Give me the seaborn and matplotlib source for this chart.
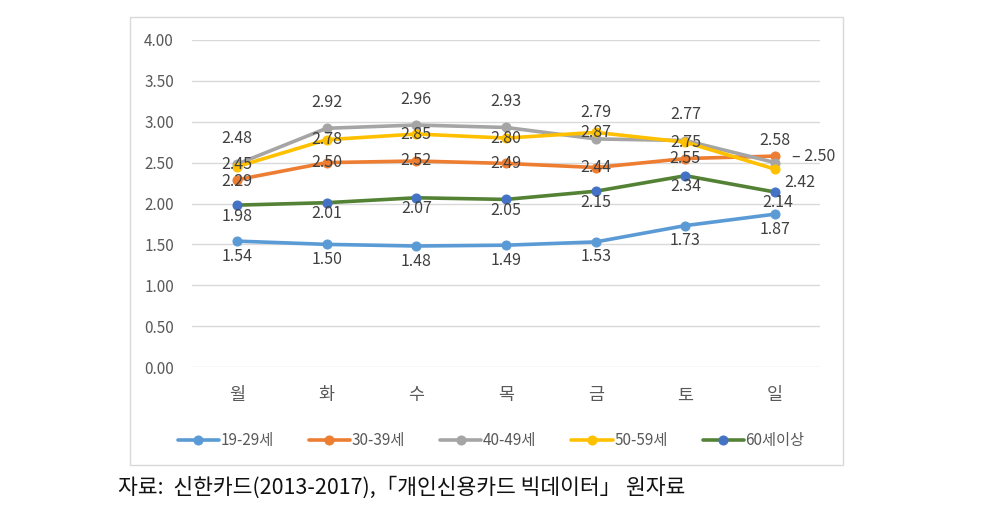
import matplotlib
matplotlib.use("Agg")
import matplotlib.pyplot as plt
import seaborn as sns
import pandas as pd
from matplotlib.patches import Rectangle

days = ["월", "화", "수", "목", "금", "토", "일"]
groups = ["19-29세", "30-39세", "40-49세", "50-59세", "60세이상"]
v_19_29 = [1.54, 1.50, 1.48, 1.49, 1.53, 1.73, 1.87]
v_30_39 = [2.29, 2.50, 2.52, 2.49, 2.44, 2.55, 2.58]
v_40_49 = [2.48, 2.92, 2.96, 2.93, 2.79, 2.77, 2.50]
v_50_59 = [2.45, 2.78, 2.85, 2.80, 2.87, 2.75, 2.42]
v_60 = [1.98, 2.01, 2.07, 2.05, 2.15, 2.34, 2.14]
y_ticks = [0.0, 0.5, 1.0, 1.5, 2.0, 2.5, 3.0, 3.5, 4.0]
source = "자료:  신한카드(2013-2017),「개인신용카드 빅데이터」 원자료"

series = [v_19_29, v_30_39, v_40_49, v_50_59, v_60]
line_colors = ["#5B9BD5", "#ED7D31", "#A5A5A5", "#FFC000", "#548235"]
marker_colors = ["#5B9BD5", "#ED7D31", "#A5A5A5", "#FFC000", "#4472C4"]

sns.set_theme(style="white")
plt.rcParams["font.family"] = ["Noto Sans CJK KR", "DejaVu Sans"]

fig = plt.figure(figsize=(9.86, 5.12), dpi=100)
ax = fig.add_axes([192 / 986, 1 - 367 / 512, 628 / 986, 327 / 512])

df = pd.DataFrame({
    "day": days * len(groups),
    "value": sum(series, []),
    "group": sum([[g] * len(days) for g in groups], []),
})

for i in range(len(groups)):
    sub = df[df["group"] == groups[i]]
    sns.lineplot(data=sub, x="day", y="value", ax=ax, color=line_colors[i],
                 lw=2.6, marker="o", markersize=6.5,
                 markerfacecolor=marker_colors[i], markeredgecolor=marker_colors[i],
                 label=groups[i], sort=False)

ax.set_xlim(-0.5, len(days) - 0.5)
ax.set_ylim(0, 4.0)
ax.set_yticks(y_ticks)
ax.set_yticklabels([f"{t:.2f}" for t in y_ticks], color="#595959", fontsize=11)
ax.set_xticks(range(len(days)))
ax.set_xticklabels(days, color="#595959", fontsize=12.5)
ax.tick_params(axis="y", length=0, pad=13)
ax.tick_params(axis="x", length=0, pad=14)
ax.set_xlabel("")
ax.set_ylabel("")
ax.grid(axis="y", color="#D9D9D9", lw=1)
ax.grid(axis="x", visible=False)
for s in ax.spines.values():
    s.set_visible(False)
ax.get_legend().remove()

lab_color = "#404040"
fs = 11.5

def put(x, y, dy, txt, dx=0, ha="center"):
    ax.annotate(txt, (x, y), xytext=(dx, dy), textcoords="offset pixels",
                ha=ha, va="center", fontsize=fs, color=lab_color)

n = len(days)
for j in range(n):
    put(j, v_19_29[j], -15, f"{v_19_29[j]:.2f}")
    put(j, v_60[j], -10 if j == n - 1 else -11, f"{v_60[j]:.2f}", dx=3 if j == n - 1 else 0)
    if j == n - 1:
        put(j, v_30_39[j], 16, f"{v_30_39[j]:.2f}")
    elif j == 0:
        put(j, v_30_39[j], -2, f"{v_30_39[j]:.2f}")
    else:
        put(j, v_30_39[j], 0, f"{v_30_39[j]:.2f}")
    if j == n - 1:
        put(j, v_50_59[j], -13, f"{v_50_59[j]:.2f}", dx=25)
    elif j == 0:
        put(j, v_50_59[j], 2, f"{v_50_59[j]:.2f}")
    else:
        put(j, v_50_59[j], 0, f"{v_50_59[j]:.2f}")
    if j == n - 1:
        put(j, v_40_49[j], 6, f"– {v_40_49[j]:.2f}", dx=17, ha="left")
    else:
        put(j, v_40_49[j], 26, f"{v_40_49[j]:.2f}")

handles, labels = ax.get_legend_handles_labels()
fig.legend(handles, labels, loc="center", bbox_to_anchor=(491 / 986, 1 - 441 / 512),
           ncol=5, frameon=False, fontsize=11, handlelength=2.7,
           columnspacing=2.3, handletextpad=0.1, labelcolor="#595959")

fig.patches.append(Rectangle((130 / 986, 1 - 465 / 512), 713 / 986, 448 / 512,
                             transform=fig.transFigure, fill=False,
                             edgecolor="#D9D9D9", lw=1))

fig.text(118 / 986, 1 - 488 / 512, source, ha="left", va="center",
         fontsize=15.5, color="#111111")

fig.savefig("out.png", dpi=100, facecolor="white")
